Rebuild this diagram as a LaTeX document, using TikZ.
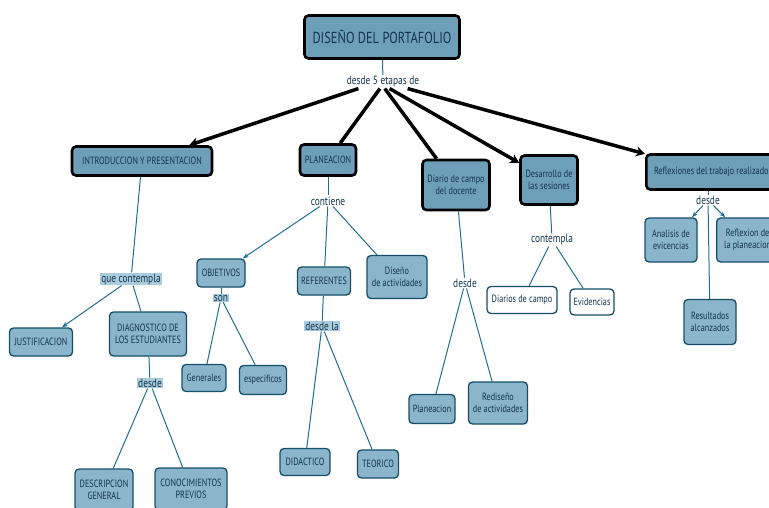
\documentclass[tikz,border=0pt]{standalone}
\usepackage{fontspec}
\setmainfont{PT Sans}[FakeStretch=0.78]
\usetikzlibrary{arrows.meta, calc}
\definecolor{boxfill}{HTML}{6E9FB8}
\definecolor{subfill}{HTML}{8AB5CA}
\definecolor{linkblue}{HTML}{1F6F95}
\definecolor{txtnavy}{HTML}{14344F}
\definecolor{labfill}{HTML}{A9CCDD}

\begin{document}
\begin{tikzpicture}[x=1pt, y=-1pt,
    etapa/.style={draw=black, line width=2.6pt, rounded corners=4pt, fill=boxfill,
      text=txtnavy, align=center, font=\fontsize{10.5}{12.5}\selectfont, inner sep=2pt},
    concepto/.style={draw=linkblue!70!black, line width=1.3pt, rounded corners=4pt, fill=subfill,
      text=txtnavy, align=center, font=\fontsize{10.5}{12.5}\selectfont, inner sep=2pt},
    blanco/.style={concepto, fill=white},
    enlace/.style={text=txtnavy, font=\fontsize{12}{14}\selectfont, inner sep=1pt, fill=white},
    enlacef/.style={enlace, fill=labfill},
    rama/.style={linkblue, line width=1pt},
    grueso/.style={black, line width=3.5pt, -{Stealth[length=9pt, width=10pt]}}]
            \useasboundingbox (0,0) rectangle (769,508);
            % titulo y etapas
            \node[etapa, minimum width=155, minimum height=43, font=\fontsize{16}{19}\selectfont] (titulo) at (382,37) {DISEÑO DEL PORTAFOLIO};
            \node[enlace] (etapas) at (383,82) {desde 5 etapas de};
            \node[etapa, minimum width=140, minimum height=29] (intro) at (142,161) {INTRODUCCION Y PRESENTACION};
            \node[etapa, minimum width=56, minimum height=31] (plan) at (328,160) {PLANEACION};
            \node[etapa, minimum width=67, minimum height=50] (diario) at (456,185) {Diario de campo\\del docente};
            \node[etapa, minimum width=57, minimum height=49] (sesiones) at (549,180) {Desarrollo de\\las sesiones};
            \node[etapa, minimum width=130, minimum height=35, anchor=west] (reflex) at (645,172) {Reflexiones del trabajo realizado};
            \draw[rama] (titulo) -- (etapas);
            \draw[grueso] (etapas.195) -- (intro);
            \draw[black, line width=3.5pt] (etapas.245) -- (plan);
            \draw[black, line width=3.5pt] (etapas.285) -- (diario);
            \draw[grueso] (etapas.315) -- (sesiones);
            \draw[grueso] (etapas.345) -- (reflex);

            % introduccion
            \node[enlacef] (quecont) at (131,279) {que contempla};
            \node[concepto, minimum width=63, minimum height=28] (justif) at (41,342) {JUSTIFICACION};
            \node[concepto, minimum width=77, minimum height=44] (diag) at (148,334) {DIAGNOSTICO DE\\LOS ESTUDIANTES};
            \node[enlacef] (desdeA) at (150,383) {desde};
            \node[concepto, minimum width=58, minimum height=42] (descr) at (104,490) {DESCRIPCION\\GENERAL};
            \node[concepto, minimum width=72, minimum height=42] (conoc) at (191,489) {CONOCIMIENTOS\\PREVIOS};
            \draw[rama] (intro) -- (quecont);
            \draw[rama, -{Stealth[length=6pt]}] (quecont) -- (justif);
            \draw[rama] (quecont) -- (diag);
            \draw[rama] (diag) -- (desdeA);
            \draw[rama] (desdeA) -- (descr);
            \draw[rama] (desdeA) -- (conoc);

            % planeacion
            \node[enlace] (contiene) at (328,201) {contiene};
            \node[concepto, minimum width=48, minimum height=28] (objet) at (221,273) {OBJETIVOS};
            \node[concepto, minimum width=53, minimum height=28] (refer) at (324,281) {REFERENTES};
            \node[concepto, minimum width=60, minimum height=43] (diseno) at (397,277) {Diseño\\de actividades};
            \node[enlacef] (son) at (221,298) {son};
            \node[concepto, minimum width=44, minimum height=27] (gener) at (204,378) {Generales};
            \node[concepto, minimum width=47, minimum height=29] (espec) at (263,380) {especificos};
            \node[enlacef] (desdela) at (322,326) {desde la};
            \node[concepto, minimum width=50, minimum height=27] (didac) at (305,462) {DIDACTICO};
            \node[concepto, minimum width=41, minimum height=28] (teori) at (378,464) {TEORICO};
            \draw[rama] (plan) -- (contiene);
            \draw[rama, -{Stealth[length=6pt]}] (contiene) -- (objet);
            \draw[rama] (contiene) -- (refer);
            \draw[rama] (contiene) -- (diseno);
            \draw[rama] (objet) -- (son);
            \draw[rama] (son) -- (gener);
            \draw[rama] (son) -- (espec);
            \draw[rama] (refer) -- (desdela);
            \draw[rama] (desdela) -- (didac);
            \draw[rama] (desdela) -- (teori);

            % diario de campo
            \node[enlace] (desdeB) at (465,283) {desde};
            \node[concepto, minimum width=46, minimum height=29] (planea) at (432,409) {Planeacion};
            \node[concepto, minimum width=59, minimum height=42] (redis) at (498,403) {Rediseño\\de actividades};
            \draw[rama] (diario) -- (desdeB);
            \draw[rama] (desdeB) -- (planea);
            \draw[rama] (desdeB) -- (redis);

            % desarrollo de las sesiones
            \node[enlace] (contempla) at (552,240) {contempla};
            \node[blanco, minimum width=70, minimum height=27] (diarios) at (522,300) {Diarios de campo};
            \node[blanco, minimum width=44, minimum height=26] (evid) at (592,302) {Evidencias};
            \draw[rama] (sesiones) -- (contempla);
            \draw[rama] (contempla) -- (diarios);
            \draw[rama] (contempla) -- (evid);

            % reflexiones
            \node[enlace] (desdeC) at (708,200) {desde};
            \node[concepto, minimum width=52, minimum height=44] (analis) at (671,240) {Analisis de\\evicencias};
            \node[concepto, minimum width=62, minimum height=44, anchor=west] (reflpl) at (716,240) {Reflexion de\\la planeacion};
            \node[concepto, minimum width=52, minimum height=45] (result) at (710,322) {Resultados\\alcanzados};
            \draw[rama] ($(reflex.south west)+(63,0)$) -- (desdeC);
            \draw[rama, -{Stealth[length=6pt]}] (desdeC) -- (analis);
            \draw[rama, -{Stealth[length=6pt]}] (desdeC) -- (reflpl);
            \draw[rama] (desdeC) -- (result);
        \end{tikzpicture}
\end{document}
